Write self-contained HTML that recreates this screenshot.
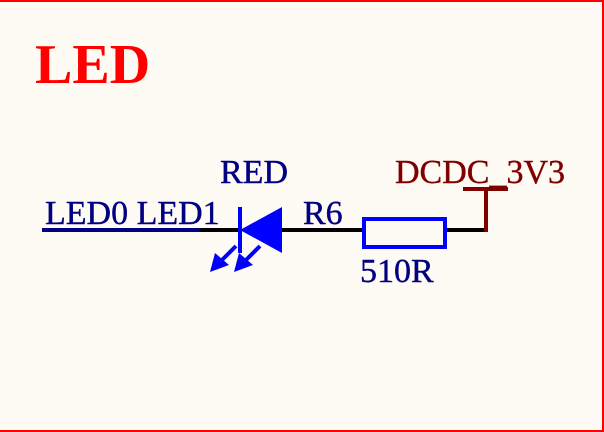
<!DOCTYPE html>
<html><head><meta charset="utf-8"><style>
html,body{margin:0;padding:0;background:#fefaf4;}
svg{display:block;}
text{font-family:"Liberation Serif",serif;}
</style></head><body>
<svg width="604" height="432" viewBox="0 0 604 432">
<rect x="0" y="0" width="604" height="432" fill="#fefaf4"/>
<line x1="0" y1="1" x2="604" y2="1" stroke="#ff0000" stroke-width="2"/>
<line x1="603" y1="0" x2="603" y2="432" stroke="#ff0000" stroke-width="2"/>
<line x1="0" y1="431" x2="604" y2="431" stroke="#ff0000" stroke-width="2"/>
<text x="35" y="83" font-size="56" font-weight="bold" fill="#ff0000">LED</text>
<line x1="42" y1="230" x2="202" y2="230" stroke="#000080" stroke-width="4"/>
<text x="45" y="224" font-size="34" fill="#000080" stroke="#000080" stroke-width="0.4">LED0 LED1</text>
<line x1="200" y1="230" x2="240" y2="230" stroke="#000" stroke-width="4"/>
<line x1="282" y1="230" x2="362" y2="230" stroke="#000" stroke-width="4"/>
<line x1="446" y1="230" x2="488" y2="230" stroke="#000" stroke-width="4"/>
<g>
<line x1="240" y1="207" x2="240" y2="253" stroke="#0000ff" stroke-width="4"/>
<polygon points="240,230 282,207 282,253" fill="#0000ff"/>
<line x1="236" y1="246" x2="222" y2="260" stroke="#0000ff" stroke-width="4"/>
<polygon points="210,272 215,253 229,265" fill="#0000ff"/>
<line x1="260" y1="246" x2="246" y2="260" stroke="#0000ff" stroke-width="4"/>
<polygon points="234,272 239,253 253,265" fill="#0000ff"/>
</g>
<text x="220" y="183" font-size="34" fill="#000080" stroke="#000080" stroke-width="0.4">RED</text>
<rect x="364" y="219" width="81" height="28" fill="none" stroke="#0000ff" stroke-width="4"/>
<text x="303" y="224" font-size="34" fill="#000080" stroke="#000080" stroke-width="0.4">R6</text>
<text x="360" y="282" font-size="34" fill="#000080" stroke="#000080" stroke-width="0.4">510R</text>
<line x1="486" y1="188" x2="486" y2="232" stroke="#800000" stroke-width="4"/>
<line x1="463" y1="189" x2="508" y2="189" stroke="#800000" stroke-width="4"/>
<text x="395" y="183" font-size="34" fill="#800000" stroke="#800000" stroke-width="0.4">DCDC_3V3</text>
</svg>
</body></html>
